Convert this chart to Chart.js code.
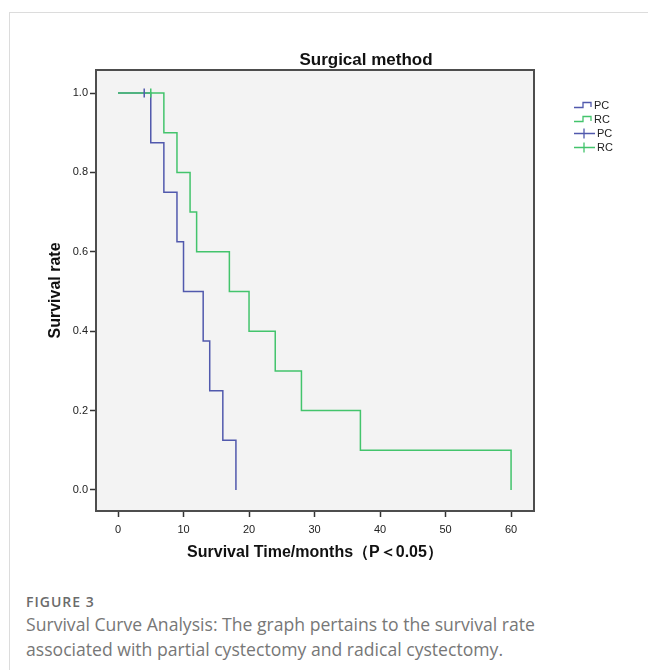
<!DOCTYPE html>
<html>
<head>
<meta charset="utf-8">
<script src="https://cdn.jsdelivr.net/npm/chart.js@4.4.1/dist/chart.umd.min.js"></script>
<style>
  body { margin: 0; background: #fff; width: 648px; height: 670px; overflow: hidden; position: relative; }
  #card { position: absolute; left: 9px; top: 12px; width: 700px; height: 700px; border: 1px solid #dcdcdc; }
  #wrap { position: absolute; left: 10px; top: 13px; width: 630px; height: 560px; }
  .fig { position: absolute; left: 26px; font-family: "Open Sans", sans-serif; color: #6b6b6b; white-space: nowrap; }
  #figno { top: 592px; font-size: 14px; font-weight: 600; letter-spacing: 1px; }
  #figtxt { top: 612px; font-size: 17.6px; line-height: 25px; color: #777; }
</style>
</head>
<body>
<div id="card"></div>
<div id="wrap"><canvas id="km" width="630" height="560"></canvas></div>
<div class="fig" id="figno">FIGURE 3</div>
<div class="fig" id="figtxt">Survival Curve Analysis: The graph pertains to the survival rate<br>associated with partial cystectomy and radical cystectomy.</div>
<script>
// Kaplan-Meier steps
const pcTimes = [0, 5, 7, 9, 10, 13, 14, 16, 18];
const pcSurv = [1, 0.875, 0.75, 0.625, 0.5, 0.375, 0.25, 0.125, 0];
const rcTimes = [0, 7, 9, 11, 12, 17, 20, 24, 28, 37, 60];
const rcSurv = [1, 0.9, 0.8, 0.7, 0.6, 0.5, 0.4, 0.3, 0.2, 0.1, 0];
// censored observations
const pcCensorTimes = [4];
const pcCensorSurv = [1];
const rcCensorTimes = [5];
const rcCensorSurv = [1];

const xTicks = [0, 10, 20, 30, 40, 50, 60];
const yTicks = [0, 0.2, 0.4, 0.6, 0.8, 1.0];

const blue = '#5159ad';
const green = '#43c46c';

function pts(xs, ys) {
  return xs.map((x, i) => ({ x, y: ys[i] }));
}

const framePlugin = {
  id: 'frame',
  beforeDatasetsDraw(chart) {
    const { ctx, chartArea: a } = chart;
    ctx.save();
    ctx.fillStyle = '#f3f3f3';
    ctx.fillRect(a.left, a.top, a.right - a.left, a.bottom - a.top);
    ctx.restore();
  },
  afterDatasetsDraw(chart) {
    const { ctx, chartArea: a } = chart;
    ctx.save();
    ctx.strokeStyle = '#4d4d4d';
    ctx.lineWidth = 2;
    ctx.strokeRect(a.left, a.top, a.right - a.left, a.bottom - a.top);
    ctx.restore();
  }
};

const titlePlugin = {
  id: 'kmTitle',
  afterDraw(chart) {
    const ctx = chart.ctx;
    ctx.save();
    ctx.font = 'bold 17px "Liberation Sans", Arial, sans-serif';
    ctx.fillStyle = '#111';
    ctx.textAlign = 'center';
    ctx.textBaseline = 'middle';
    ctx.fillText('Surgical method', 356, 47);
    ctx.restore();
  }
};

// SPSS style legend: step symbol for the curves, cross for censored cases
const legendItems = [
  { text: 'PC', color: blue, kind: 'step', y: 92 },
  { text: 'RC', color: green, kind: 'step', y: 106 },
  { text: 'PC', color: blue, kind: 'cross', y: 120.5 },
  { text: 'RC', color: green, kind: 'cross', y: 134.5 }
];
const legendPlugin = {
  id: 'kmLegend',
  afterDraw(chart) {
    const ctx = chart.ctx;
    ctx.save();
    ctx.lineWidth = 1.3;
    legendItems.forEach(it => {
      ctx.strokeStyle = it.color;
      ctx.beginPath();
      if (it.kind === 'step') {
        ctx.moveTo(564, it.y + 2.5);
        ctx.lineTo(573, it.y + 2.5);
        ctx.lineTo(573, it.y - 2.5);
        ctx.lineTo(581, it.y - 2.5);
        ctx.lineTo(581, it.y + 2);
      } else {
        ctx.moveTo(564, it.y);
        ctx.lineTo(585, it.y);
        ctx.moveTo(574, it.y - 5);
        ctx.lineTo(574, it.y + 5);
      }
      ctx.stroke();
      ctx.font = '11px "Liberation Sans", Arial, sans-serif';
      ctx.fillStyle = '#222';
      ctx.textAlign = 'left';
      ctx.textBaseline = 'middle';
      ctx.fillText(it.text, it.kind === 'step' ? 584 : 587, it.y + 0.5);
    });
    ctx.restore();
  }
};

const tickFont = { family: '"Liberation Sans", Arial, sans-serif', size: 11 };
const titleFont = { family: '"Liberation Sans", Arial, sans-serif', size: 16, weight: 'bold' };

new Chart(document.getElementById('km'), {
  type: 'line',
  data: {
    datasets: [
      {
        label: 'RC censored',
        type: 'scatter',
        data: pts(rcCensorTimes, rcCensorSurv),
        borderColor: green,
        backgroundColor: green,
        pointStyle: 'line',
        rotation: 90,
        pointRadius: 4.5,
        borderWidth: 1.5,
        showLine: false,
        order: -2
      },
      {
        label: 'PC censored',
        type: 'scatter',
        data: pts(pcCensorTimes, pcCensorSurv),
        borderColor: blue,
        backgroundColor: blue,
        pointStyle: 'line',
        rotation: 90,
        pointRadius: 4.5,
        borderWidth: 1.5,
        showLine: false,
        order: -1
      },
      {
        label: 'RC',
        data: pts(rcTimes, rcSurv),
        borderColor: green,
        borderWidth: 1.5,
        stepped: 'before',
        pointRadius: 0,
        fill: false,
        order: 0
      },
      {
        label: 'PC',
        data: pts(pcTimes, pcSurv),
        borderColor: blue,
        borderWidth: 1.5,
        stepped: 'before',
        pointRadius: 0,
        fill: false,
        order: 1
      }
    ]
  },
  options: {
    responsive: false,
    devicePixelRatio: 1,
    animation: false,
    layout: { padding: { left: 0, top: 57, right: 106, bottom: 0 } },
    scales: {
      x: {
        type: 'linear',
        min: -3.36,
        max: 63.5,
        afterBuildTicks: s => { s.ticks = xTicks.map(v => ({ value: v })); },
        afterFit: s => { s.height = 62; },
        grid: { drawOnChartArea: false, drawTicks: true, tickLength: 6, tickColor: '#333', tickWidth: 1.5 },
        border: { display: false },
        ticks: { font: tickFont, color: '#222', padding: 6, maxRotation: 0 },
        title: { display: true, text: 'Survival Time/months（P＜0.05）', font: titleFont, color: '#111', padding: { top: 0, bottom: 11 } }
      },
      y: {
        type: 'linear',
        min: -0.053,
        max: 1.058,
        afterBuildTicks: s => { s.ticks = yTicks.map(v => ({ value: v })); },
        afterFit: s => { s.width = 86; },
        grid: { drawOnChartArea: false, drawTicks: true, tickLength: 6, tickColor: '#333', tickWidth: 1.5 },
        border: { display: false },
        ticks: { font: tickFont, color: '#222', padding: 2, callback: v => v.toFixed(1) },
        title: { display: true, text: 'Survival rate', font: titleFont, color: '#111', padding: { top: 36, bottom: 0 } }
      }
    },
    plugins: {
      legend: { display: false },
      tooltip: { enabled: false }
    }
  },
  plugins: [framePlugin, titlePlugin, legendPlugin]
});
</script>
</body>
</html>
